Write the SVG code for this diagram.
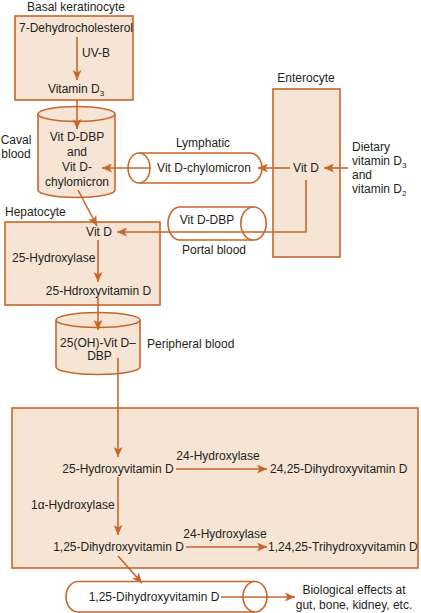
<svg xmlns="http://www.w3.org/2000/svg" width="421" height="613" viewBox="0 0 421 613">
<defs>
<marker id="ah" markerUnits="userSpaceOnUse" markerWidth="11" markerHeight="9" refX="10" refY="4.5" orient="auto">
<path d="M0,0 L10,4.5 L0,9 L2.5,4.5 z" fill="#c9652b"/>
</marker>
<style>
.box{fill:#f6e4d4;stroke:#c9652b;stroke-width:1.6}
.tube{fill:#ffffff;stroke:#c9652b;stroke-width:1.6}
.cyl{fill:#f6e4d4;stroke:#c9652b;stroke-width:1.6}
.c{fill:none;stroke:#c9652b;stroke-width:1.6;marker-end:url(#ah)}
.ln{fill:none;stroke:#c9652b;stroke-width:1.6}
text{font-family:"Liberation Sans",Arial,sans-serif;font-size:12px;fill:#231f20}
.m{text-anchor:middle}
.s{font-size:8px}
</style>
</defs>

<g id="keratinocyte">
<rect class="box" x="15" y="16" width="118" height="84"/>
<text class="m" x="76" y="11">Basal keratinocyte</text>
<text class="m" x="76" y="32">7-Dehydrocholesterol</text>
<text x="82" y="57">UV-B</text>
<text class="m" x="76" y="93">Vitamin D<tspan class="s" dy="3">3</tspan></text>
</g>

<g id="caval">
<path class="cyl" d="M38,114 L38,190 A38.5,7.5 0 0 0 115,190 L115,114"/>
<ellipse class="cyl" cx="76.5" cy="114" rx="38.5" ry="7.5"/>
<text class="m" x="77" y="141">Vit D-DBP</text>
<text class="m" x="77" y="156">and</text>
<text class="m" x="77" y="171">Vit D-</text>
<text class="m" x="77" y="186">chylomicron</text>
<text class="m" x="16" y="144">Caval</text>
<text class="m" x="16" y="158">blood</text>
</g>

<g id="enterocyte">
<rect class="box" x="273" y="89" width="67" height="168"/>
<text class="m" x="306" y="82">Enterocyte</text>
<text class="m" x="306" y="172">Vit D</text>
</g>

<g id="dietary">
<text x="352" y="151">Dietary</text>
<text x="352" y="165">vitamin D<tspan class="s" dy="3">3</tspan></text>
<text x="352" y="179">and</text>
<text x="352" y="193">vitamin D<tspan class="s" dy="3">2</tspan></text>
</g>

<g id="lymphatic">
<path class="tube" d="M139,153 L250,153 A12,15 0 0 1 250,183 L139,183"/>
<ellipse class="tube" cx="139" cy="168" rx="11" ry="15"/>
<text class="m" x="203" y="147">Lymphatic</text>
<text class="m" x="204" y="172">Vit D-chylomicron</text>
</g>

<g id="hepatocyte">
<rect class="box" x="5" y="222" width="155" height="83"/>
<text x="5" y="216">Hepatocyte</text>
<text class="m" x="99" y="236">Vit D</text>
<text x="12" y="262">25-Hydroxylase</text>
<text class="m" x="98.5" y="295">25-Hdroxyvitamin D</text>
</g>

<g id="portal">
<path class="tube" d="M253,207 L180,207 A12,16.5 0 0 0 180,240 L253,240"/>
<ellipse class="tube" cx="253.5" cy="223.5" rx="12.7" ry="16.5"/>
<text class="m" x="207" y="224">Vit D-DBP</text>
<text class="m" x="214" y="254">Portal blood</text>
</g>

<g id="peripheral">
<path class="cyl" d="M56,320 L56,367 A42,7.5 0 0 0 140,367 L140,320"/>
<ellipse class="cyl" cx="98" cy="320" rx="42" ry="7.5"/>
<text class="m" x="98" y="347">25(OH)-Vit D–</text>
<text class="m" x="99.5" y="360">DBP</text>
<text x="147" y="348">Peripheral blood</text>
</g>

<g id="kidney">
<rect class="box" x="12" y="408" width="406" height="160"/>
<text class="m" x="118" y="473">25-Hydroxyvitamin D</text>
<text class="m" x="218" y="460">24-Hydroxylase</text>
<text x="270" y="473">24,25-Dihydroxyvitamin D</text>
<text x="31" y="509">1α-Hydroxylase</text>
<text class="m" x="118.5" y="551">1,25-Dihydroxyvitamin D</text>
<text class="m" x="225" y="538">24-Hydroxylase</text>
<text x="268" y="551">1,24,25-Trihydroxyvitamin D</text>
</g>

<g id="circulation">
<path class="tube" d="M255,581.5 L78,581.5 A12,15.25 0 0 0 78,612 L255,612"/>
<ellipse class="tube" cx="255" cy="596.75" rx="12" ry="15.25"/>
<text class="m" x="154" y="601">1,25-Dihydroxyvitamin D</text>
</g>

<g id="effects">
<text class="m" x="354" y="594">Biological effects at</text>
<text class="m" x="354" y="609">gut, bone, kidney, etc.</text>
</g>

<g id="connectors">
<path class="c" d="M77,37 L77,80"/>
<path class="c" d="M77,100 L77,129"/>
<path class="c" d="M290,168 L258,168"/>
<path class="c" d="M348,168 L324,168"/>
<path class="c" d="M150,168 L102,168"/>
<path class="c" d="M306,180 L306,232 L117,232"/>
<path class="c" d="M78,190 L97,226"/>
<path class="c" d="M98,240 L98,282"/>
<path class="c" d="M98,298 L98,330"/>
<path class="c" d="M118,358 L118,457"/>
<path class="c" d="M176,469 L267,469"/>
<path class="c" d="M118,477 L118,535"/>
<path class="c" d="M186,547 L267,547"/>
<path class="c" d="M118,556 L142,583"/>
<path class="c" d="M221,597 L295,597"/>
</g>
</svg>
